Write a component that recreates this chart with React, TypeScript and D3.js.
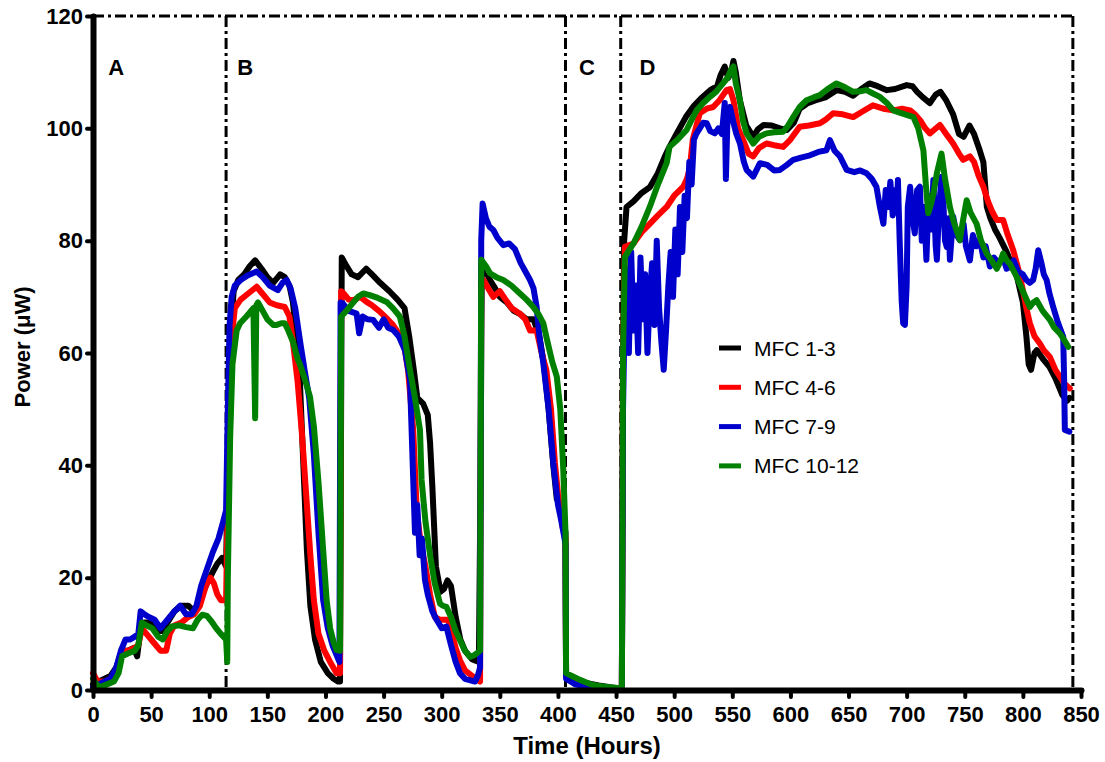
import React, { useEffect, useRef } from "react";
import * as d3 from "d3";

// [hours, power µW]
const mfc13: [number, number][] = [
  [0, 1], [5, 1.5], [10, 2], [15, 2.5], [20, 4], [25, 7], [30, 7], [35, 7.5], [38, 6], [41, 11], [44, 12], [50, 12], [56, 10.5], [60, 10.5], [64, 12], [70, 14], [76, 15], [82, 15], [87, 14], [92, 16], [98, 19], [103, 21], [107, 22.5], [111, 23.5], [114.5, 22],
  [116, 40], [118, 62], [121, 71], [125, 73], [130, 74], [135, 75.5], [139.5, 76.5], [145, 75], [150, 73.5], [155, 72.5], [161, 74], [165, 73.5], [169, 72], [172, 69], [175, 63], [178, 55], [181, 40], [184, 25], [187, 15], [191, 9], [196, 5], [202, 3], [207, 2], [211, 1.5], [212.5, 1.5],
  [214, 77], [218, 75.5], [222.5, 74], [228, 73.5], [235, 75], [240, 74], [247, 72.5], [255, 71], [262, 69.5], [268, 68], [272, 63], [276, 57], [279, 52], [284, 51], [288, 49], [290, 44], [292, 36], [295, 22], [299, 17.5], [302, 18], [305, 19.5], [308, 18.5], [312, 13], [316, 9], [320, 7], [326, 5.5], [332, 5],
  [333.5, 40], [334.5, 76], [338, 74.5], [341.5, 73], [346, 71.5], [350, 70], [356, 69], [362, 67.5], [367, 67], [373, 66], [379, 66], [384, 63], [388, 58], [392, 50], [396, 40], [399, 34], [402, 33], [405, 30], [406.5, 28],
  [407, 2.5], [415, 2], [425, 1.2], [435, 0.8], [445, 0.5], [453, 0.3], [455, 0.3],
  [456, 60], [457, 80], [459, 86], [465, 87], [472, 88.5], [479, 89.5], [486, 92], [492, 95], [496, 96.7], [502, 99], [510, 102], [517, 104], [524, 105.5], [531, 106.8], [537, 107.5], [540, 109.5], [543.5, 111], [546.5, 109], [549, 110], [551, 112], [553, 110], [556.5, 105], [562, 100.5], [568, 98.5], [572, 99.8], [577, 100.6], [584, 100.5], [591, 100], [597, 99.7], [603, 101], [608, 103.5], [615, 104.5], [622, 105], [630, 105.5], [639.7, 106.8], [647, 106.5], [654, 105.8], [661, 107], [668, 108], [675, 107.5], [683, 106.8], [690, 107], [700, 107.7], [705, 107.5], [709, 106.5], [714, 105.5], [720, 104.5], [725, 106], [729, 106.5], [734, 105], [740, 102.5], [745, 99], [749, 98.5], [754, 100.5], [758, 99], [763, 96], [766, 94], [769, 86], [772, 84], [776, 82], [780, 80.5], [786, 78], [790, 76], [795, 73.5], [800, 69], [803, 63], [805, 58], [807, 57], [810, 60], [812, 60.5], [817, 59], [823, 57.5], [828, 55.5], [834, 52.5], [838, 51.5], [840, 52],
];

const mfc46: [number, number][] = [
  [0, 3], [4, 1.5], [10, 1.5], [15, 2], [20, 3.5], [25, 7], [30, 7], [36, 7.5], [39, 8], [42, 11], [46, 10], [52, 8.5], [58, 7], [63, 7], [66, 10], [70, 11.5], [76, 12], [82, 13], [87, 13.5], [92, 15], [97, 18.5], [101, 20], [104, 19], [107, 17], [110, 16], [114.5, 16],
  [116, 35], [118, 55], [120, 64], [122, 68], [127, 69.5], [133, 70.5], [140.8, 71.8], [146, 70.5], [152, 69], [158, 68.5], [165, 68.2], [169, 66.5], [172, 62], [176, 55], [180, 45], [184, 33], [187, 24], [190, 16], [194, 10], [199, 7], [204, 5], [209.6, 3], [212.5, 3],
  [213.5, 71], [216, 70.5], [220, 69.5], [224, 69.4], [230, 70], [235.4, 69.1], [240, 68.5], [246, 67.5], [252.6, 66.2], [258, 65], [263, 63.5], [267, 62.3], [271, 57], [275.5, 46.3], [278.5, 32], [282, 26], [286, 22], [290, 17], [294, 13], [298.5, 12.5], [305.6, 12.5], [309, 10], [312, 7.5], [315.7, 5.3], [320, 3.5], [327, 2.4], [333, 1.5],
  [334, 73], [336, 73], [340, 71.5], [344.4, 70], [350, 71], [355, 69.5], [360, 68], [367.3, 67], [372, 66], [376, 64], [381.7, 64], [386, 60], [390, 57], [394, 50], [397.4, 40.4], [400, 35], [404, 29], [406.5, 27],
  [407, 2.5], [415, 1.5], [425, 0.8], [435, 0.5], [445, 0.3], [455, 0.2],
  [456, 60], [457.6, 78.9], [465, 79.5], [472, 81.5], [479, 83], [486, 84.5], [493.5, 86], [500, 88], [507.8, 89.6], [511, 91], [513.5, 93], [516, 98], [522, 102.7], [528, 103.5], [533.6, 103.8], [539, 105], [545, 106.8], [548, 107], [551, 105], [555, 100], [559.4, 97.9], [564, 95.5], [568, 95], [573, 96.5], [579.4, 97.3], [586, 97], [593.8, 96.7], [600, 98], [608, 100.3], [616, 100.5], [625.4, 100.9], [630, 101.5], [636.8, 102.7], [645, 102.5], [654, 102], [662, 103], [671, 104.1], [680, 103.5], [688.5, 103.2], [696, 103.5], [703, 103.2], [707, 102.5], [711.4, 101.5], [716, 100], [720, 99.1], [724, 99.8], [728.6, 100.6], [734, 99], [740, 97.3], [745, 95.5], [748.6, 94.4], [754.4, 95], [758, 94], [762, 91.5], [766, 89.6], [770, 87], [774, 85], [777.5, 83.7], [783, 83.7], [787, 81], [791.7, 78.3], [796, 75], [800, 71.2], [803, 68], [806, 65.3], [810, 63], [814.6, 61.7], [818, 60.5], [823.2, 59.3], [828, 57], [831.8, 55.8], [836, 54.5], [840.4, 53.7],
];

const mfc79: [number, number][] = [
  [0, 0.5], [5, 1], [10, 1.5], [15, 2], [20, 4], [24, 7], [28, 9], [32, 9], [36, 9.5], [39, 10], [41, 14], [44, 13.5], [48, 13], [53, 12.5], [58, 11], [62, 12], [66, 13], [70, 14], [75, 15], [80, 13.5], [85, 13.5], [89, 15], [93, 18.5], [98, 21.5], [103, 24.5], [108, 27], [112, 30], [114.5, 32],
  [116, 50], [117.5, 65], [119.3, 70], [122, 72], [127, 73], [133, 73.8], [140.8, 74.5], [146, 73.5], [152, 72], [159, 71.2], [163, 72.5], [166.6, 73], [170, 71.5], [174, 68], [178, 62.3], [182, 57], [186, 52], [190, 42], [194, 28], [198, 16], [202, 11], [206, 8], [210, 6], [212, 5],
  [213, 69], [215, 68.8], [220, 67.5], [226.8, 67], [229, 63.5], [232, 66.5], [236, 66], [241, 65.9], [246, 64.5], [250, 66], [254, 64.5], [258.3, 64.1], [263, 63], [268.4, 60.5], [272.7, 55.2], [275.5, 37.4], [277, 28], [279, 33], [281, 24], [283, 27], [285.6, 19.6], [288, 17], [292, 14], [295.6, 12.5], [300, 11], [304, 11.3], [308, 8], [312, 5], [315.7, 3], [320, 2], [328.6, 1.5], [331, 2.5], [333, 4],
  [334, 80], [335.2, 86.6], [338, 84], [341, 82.5], [344.4, 81.9], [348, 80.5], [353, 79.2], [358, 79.5], [363, 78.5], [368, 76], [372, 74.5], [376, 73], [379, 71.5], [381.7, 68.2], [384, 63], [387.4, 58.2], [392, 50], [396, 40.4], [400, 33], [403, 30], [406.5, 26],
  [407, 2], [415, 1], [425, 0.5], [435, 0.3], [445, 0.2], [455, 0.2],
  [456, 50], [457, 62], [459, 75], [461, 60], [463, 78], [465, 64], [467, 72], [469, 60], [471, 77], [473, 66], [475, 74], [477, 60], [479, 70], [481, 76], [483, 65], [485, 80], [487, 68], [489, 62], [491, 57], [493, 64], [495, 72], [497, 78], [499, 70], [501, 82], [503, 74], [505, 86], [507, 78], [509, 88], [511, 84], [513, 94], [515, 90], [517, 98], [519, 99], [522, 100], [525, 101], [528, 100.9], [531, 99.5], [535, 99.1], [538, 100], [541, 99], [543.5, 104.5], [544.5, 91], [546, 103], [548, 103.8], [551, 101], [553.5, 99], [556.6, 97.3], [560, 94], [562.3, 92.6], [568, 91.4], [573.8, 93.8], [580, 93.5], [586, 92.5], [591, 92.6], [597, 93.5], [602.4, 94.4], [609, 94.8], [616.8, 95.2], [624, 95.8], [631, 96.1], [634, 97.9], [638, 96], [642.6, 95], [648.4, 92.6], [655, 92.2], [660, 92.5], [665.5, 92], [670, 91], [674, 89.6], [677, 86], [680, 83], [682, 89], [684, 86], [686, 90.5], [688, 84.5], [690, 89], [691.4, 85], [692.5, 90.8], [694, 80], [695.7, 69.4], [697, 65.3], [698.5, 65], [700, 72], [701, 86], [703, 89.6], [705, 84], [707, 81.3], [709, 89], [711.4, 89.6], [713, 80], [715, 86], [717, 76.6], [719, 88], [721, 82], [723, 90.8], [725, 79], [726, 76.6], [728, 86], [730, 91.4], [731.5, 87.2], [733, 80], [734.5, 78.9], [736, 84], [737.2, 76.6], [740, 84.3], [743, 81], [745.8, 80.1], [749, 83], [751, 79], [754.4, 76.5], [757, 81], [760, 79], [763, 80.1], [766, 77], [768, 79], [771.6, 75.4], [775, 77], [779, 76], [783, 77], [786, 75], [788.8, 75.4], [792, 76.5], [796, 74.5], [800, 74], [803, 73], [806, 72.5], [808.8, 73], [811, 75], [813.2, 78.3], [816, 76], [818, 74], [820.4, 73], [823, 70.5], [826.1, 68.2], [830, 65.5], [834.7, 62.9], [835.5, 55], [836.1, 46.3], [840, 46],
];

const mfc1012: [number, number][] = [
  [0, 2], [3, 1], [6, 0.5], [12, 1], [18, 1.5], [22, 3], [25, 6], [30, 6.5], [36, 7], [39, 8], [42, 12], [46, 11.5], [51, 11], [56, 9.5], [60, 9], [64, 10.5], [68, 11.3], [74, 11.5], [80, 11.2], [86, 11], [90, 12.5], [94, 13.4], [98, 13.2], [102, 12.2], [106, 11], [110, 10], [114.5, 9],
  [115.5, 5], [116, 20], [118, 45], [120, 58], [123.6, 64], [126.5, 65.3], [132, 66.5], [138, 68], [139.5, 48.4], [140.5, 68.5], [142, 69], [146, 67.5], [150, 66], [155, 65], [158, 65], [162, 65.3], [165, 65.3], [168, 64], [172, 62], [176, 59], [178, 58], [182, 55.5], [186.7, 52.2], [190, 47], [194, 37], [198, 25], [201, 16], [204, 11], [207, 8.5], [209.6, 7.1], [212.5, 7],
  [213.5, 66.5], [218, 67.5], [224, 69], [228, 70], [232.5, 70.6], [238, 70.3], [245, 69.8], [252.6, 69.1], [258, 68], [264, 66.5], [268, 63], [272.7, 57], [277, 52], [281.3, 46.3], [282.7, 37.4], [286, 30], [290, 24], [294, 19], [298.5, 15.4], [301, 15], [304, 14.8], [308, 13], [312, 10.5], [315.7, 8.9], [320, 7], [324.3, 5.9], [328, 6.2], [330, 6.5], [333, 7],
  [334, 76.6], [338, 75.5], [341.5, 74.2], [347, 73.5], [353, 73], [360, 72], [367.3, 70.6], [373, 69.5], [378.8, 68.2], [383, 67], [387.4, 65.3], [391, 62], [395, 58.5], [399, 55.8], [402, 50], [404.6, 39.2], [406.5, 28],
  [407, 3], [412, 2.5], [419, 1.8], [425, 1.3], [430, 0.9], [440, 0.6], [448, 0.4], [453, 0.3], [455, 0.3],
  [456, 60], [457.6, 77.1], [465, 79.5], [472, 82.5], [479, 86], [486, 90], [493.5, 93.8], [496, 96.7], [503, 98], [510.7, 99.7], [515, 101.5], [519.3, 103.2], [525, 104.5], [530.7, 105.6], [536, 106.5], [542, 108], [546, 109], [549, 110.5], [551, 111], [553, 108], [556.6, 105], [559, 101.5], [562.3, 99.1], [568, 97.3], [573, 98.5], [579.4, 99.1], [586, 99.3], [593.8, 99.4], [598, 100.5], [602.4, 102], [608, 103.8], [613.9, 105], [620, 105.5], [625.4, 105.9], [632, 107], [639.7, 108], [647, 107.3], [654, 106.5], [660, 106.6], [665.5, 106.8], [671, 106.2], [677, 105.6], [683, 104.5], [688.5, 103.2], [694, 102.8], [700, 102.4], [705.8, 102], [710, 100], [714.4, 96.1], [716.5, 90], [718.6, 84.9], [721, 86.5], [723, 88.4], [726, 92], [730, 95.5], [733, 91], [737.2, 86], [741, 83], [745.8, 80.1], [748, 83], [751.6, 87.2], [755, 85], [760.2, 83], [764, 80], [768.8, 77.7], [773, 76.5], [777.5, 75], [780, 76], [783, 77.7], [786, 76.5], [788.8, 75.9], [794.6, 73.6], [800, 71], [806, 68.2], [809, 69], [811.8, 69.4], [817, 67.5], [823.2, 65.9], [827, 64.5], [831.8, 63.5], [835, 62.5], [839, 61.1],
];

const seriesNames = ["MFC 1-3", "MFC 4-6", "MFC 7-9", "MFC 10-12"];
const seriesColors = ["#000000", "#ff0000", "#0000cc", "#008000"];

// phase boundaries (hours) and labels
const phaseBounds = [114.5, 406.5, 454, 843];
const phaseLabels = ["A", "B", "C", "D"];
const phaseLabelAt = [20, 131, 425, 477];

const xTicks = d3.range(0, 851, 50);
const yTicks = d3.range(0, 121, 20);

const W = 1105;
const H = 762;
const x = d3.scaleLinear().domain([0, 850]).range([93, 1081]);
const y = d3.scaleLinear().domain([0, 120]).range([690, 16]);
const font = "Arial, 'Liberation Sans', sans-serif";

const App = () => {
  const xRef = useRef<SVGGElement>(null);
  const yRef = useRef<SVGGElement>(null);

  useEffect(() => {
    const xa = d3.select(xRef.current!);
    xa.call(d3.axisBottom(x).tickValues(xTicks).tickSize(7).tickSizeOuter(0).tickPadding(9) as any);
    const ya = d3.select(yRef.current!);
    ya.call(d3.axisLeft(y).tickValues(yTicks).tickSize(6).tickSizeOuter(0).tickPadding(4) as any);
    [xa, ya].forEach((g) => {
      g.select(".domain").attr("stroke-width", 6).attr("stroke-linecap", "round");
      g.selectAll(".tick line").attr("stroke-width", 4).attr("stroke-linecap", "round");
      g.selectAll(".tick text")
        .attr("font-family", font)
        .attr("font-weight", "bold")
        .attr("font-size", 22)
        .attr("fill", "#000");
    });
  }, []);

  const line = d3
    .line<[number, number]>()
    .x((d) => x(d[0]))
    .y((d) => y(d[1]));

  const all = [mfc13, mfc46, mfc79, mfc1012];
  const dash = "11,4,3,4";

  return (
    <svg width={W} height={H} style={{ position: "absolute", left: 0, top: 0, background: "#fff" }}>
      <rect width={W} height={H} fill="#fff" />
      {/* phase frame */}
      <g stroke="#000" strokeWidth={3} strokeDasharray={dash} fill="none">
        <line x1={x(0)} x2={x(phaseBounds[3])} y1={y(120)} y2={y(120)} />
        {phaseBounds.map((b, i) => (
          <line key={i} x1={x(b)} x2={x(b)} y1={y(120)} y2={y(0)} />
        ))}
      </g>
      <g fontFamily={font} fontWeight="bold" fontSize={22}>
        {phaseLabels.map((l, i) => (
          <text key={l} x={x(phaseLabelAt[i])} y={y(110.5)} textAnchor="middle" dominantBaseline="middle">
            {l}
          </text>
        ))}
      </g>
      {/* series */}
      <g fill="none" strokeWidth={6} strokeLinejoin="round" strokeLinecap="round">
        {all.map((s, i) => (
          <path key={i} d={line(s) || ""} stroke={seriesColors[i]} />
        ))}
      </g>
      <g ref={yRef} transform={`translate(${x(0)},0)`} />
      <g ref={xRef} transform={`translate(0,${y(0)})`} />
      {/* axis titles */}
      <text x={587} y={754} textAnchor="middle" fontFamily={font} fontWeight="bold" fontSize={24}>
        Time (Hours)
      </text>
      <text transform="translate(30,347) rotate(-90)" textAnchor="middle" fontFamily={font} fontWeight="bold" fontSize={22}>
        Power (μW)
      </text>
      {/* legend */}
      <g fontFamily={font} fontSize={21}>
        {seriesNames.map((n, i) => (
          <g key={n} transform={`translate(719,${348 + i * 39.3})`}>
            <line x1={0} x2={22} y1={0} y2={0} stroke={seriesColors[i]} strokeWidth={5} />
            <text x={35} y={0} dominantBaseline="central">
              {n}
            </text>
          </g>
        ))}
      </g>
    </svg>
  );
};

export default App;
